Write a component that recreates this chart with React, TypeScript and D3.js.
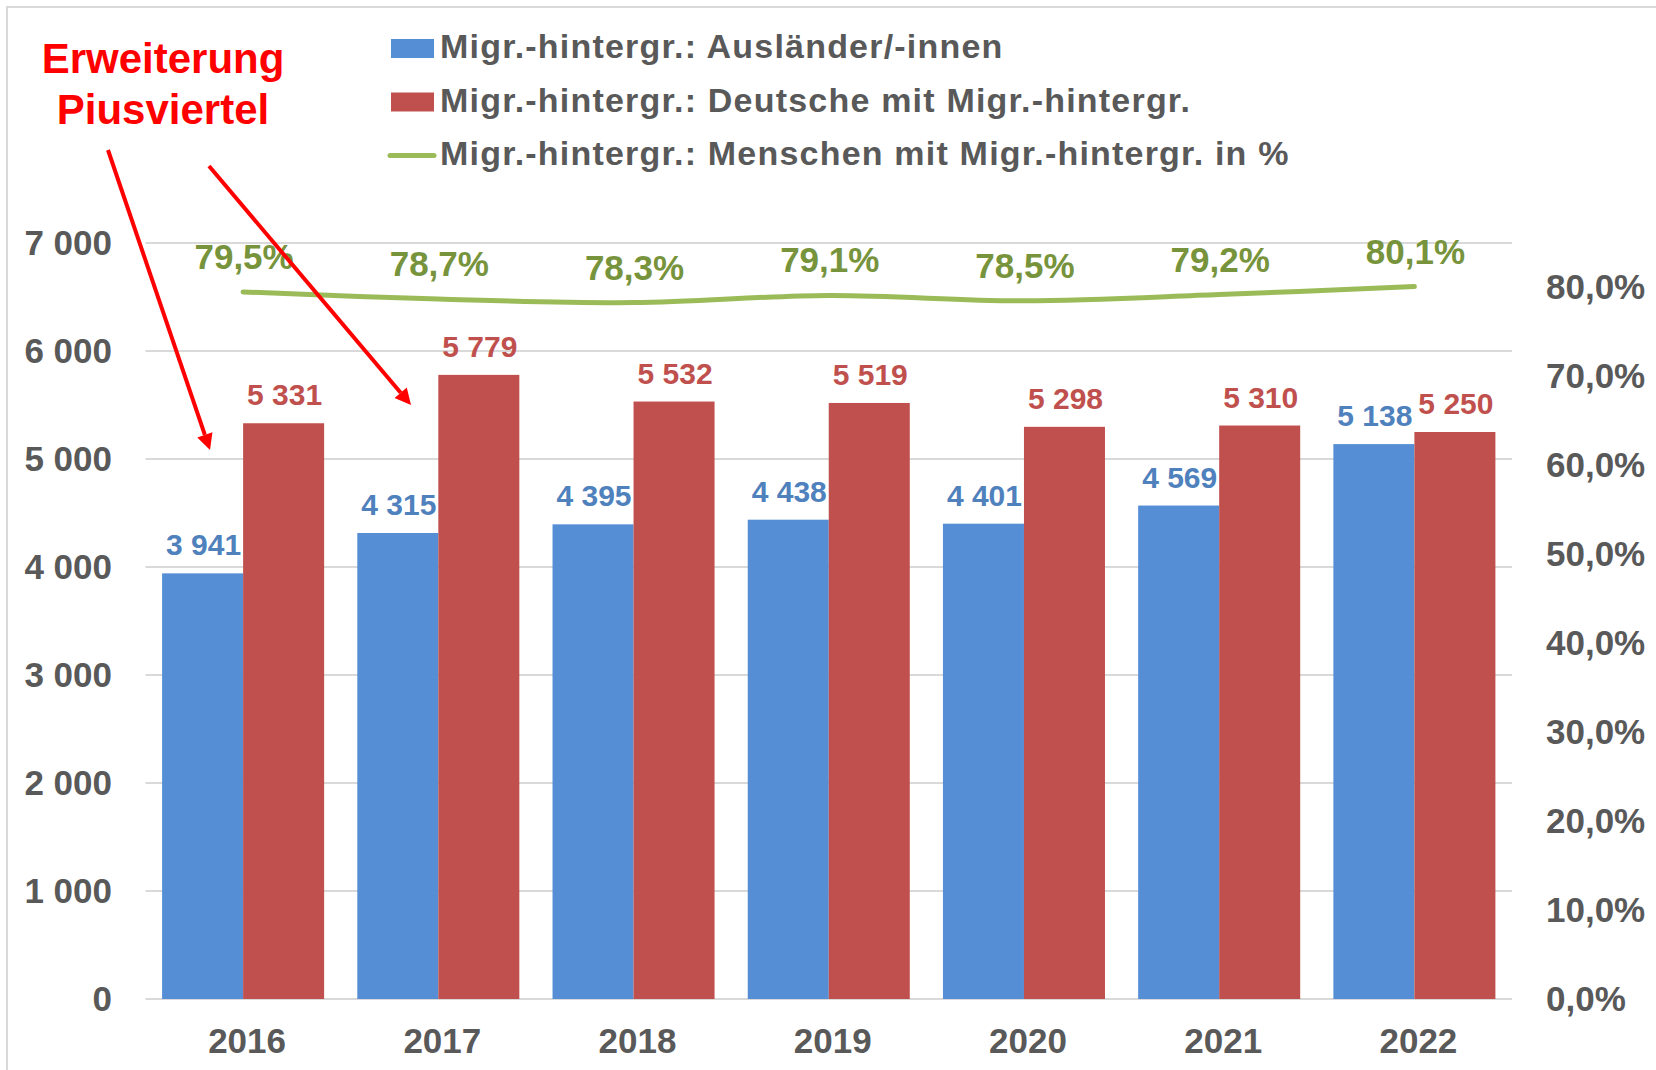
import * as d3 from "d3";

// Jahre und Werte
const years = ["2016", "2017", "2018", "2019", "2020", "2021", "2022"];
const auslaender = [3941, 4315, 4395, 4438, 4401, 4569, 5138];
const deutscheMigr = [5331, 5779, 5532, 5519, 5298, 5310, 5250];
const anteilProzent = [79.5, 78.7, 78.3, 79.1, 78.5, 79.2, 80.1];

const leftTicks = [0, 1000, 2000, 3000, 4000, 5000, 6000, 7000];
const rightTicks = [0, 0.1, 0.2, 0.3, 0.4, 0.5, 0.6, 0.7, 0.8];

const legendLabels = [
  "Migr.-hintergr.: Ausländer/-innen",
  "Migr.-hintergr.: Deutsche mit Migr.-hintergr.",
  "Migr.-hintergr.: Menschen mit Migr.-hintergr. in %",
];
const annotationLines = ["Erweiterung", "Piusviertel"];

const W = 1656;
const H = 1070;
const PLOT = { left: 145.5, right: 1512, top: 243, bottom: 999 };

const BLUE = "#558ED5";
const BLUE_TXT = "#4F81BD";
const RED = "#C0504D";
const GREEN = "#9BBB59";
const GREEN_TXT = "#77933C";
const GRAY = "#595959";
const GRID = "#D9D9D9";
const FONT = "'Liberation Sans', Arial, sans-serif";

const de = d3.formatLocale({
  decimal: ",",
  thousands: " ",
  grouping: [3],
  currency: ["", " €"],
});
const fmtNum = de.format(",d");
const fmtPct = de.format(".1%");

export default function App() {
  const x = d3
    .scaleBand<string>()
    .domain(years)
    .range([PLOT.left, PLOT.right])
    .paddingInner(0.17)
    .paddingOuter(0.085);
  const xSub = d3
    .scaleBand<string>()
    .domain(["a", "d"])
    .range([0, x.bandwidth()]);
  const yLeft = d3.scaleLinear().domain([0, 7000]).range([PLOT.bottom, PLOT.top]);
  const yRight = d3.scaleLinear().domain([0, 0.85]).range([PLOT.bottom, PLOT.top]);

  const cx = (y: string) => (x(y) ?? 0) + x.bandwidth() / 2;

  const linePts: [number, number][] = years.map((yr, i) => [
    cx(yr),
    yRight(anteilProzent[i] / 100),
  ]);
  const lineGen = d3.line().curve(d3.curveCatmullRom.alpha(0.5));

  const bars = [
    { key: "a", values: auslaender, fill: BLUE, txt: BLUE_TXT },
    { key: "d", values: deutscheMigr, fill: RED, txt: RED },
  ];

  // Pfeile von der Anmerkung zu 2016/2017
  const arrows = [
    { from: [108, 150], to: [210, 450] },
    { from: [209, 166], to: [411, 405] },
  ];

  return (
    <svg
      width={W}
      height={H}
      viewBox={`0 0 ${W} ${H}`}
      style={{ position: "absolute", left: 0, top: 0, background: "#fff" }}
      fontFamily={FONT}
      fontWeight="bold"
    >
      <rect x={7} y={7} width={W} height={H} fill="#fff" stroke={GRID} strokeWidth={2} />

      {/* Gitterlinien */}
      {leftTicks.map((t) => (
        <line
          key={t}
          x1={PLOT.left}
          x2={PLOT.right}
          y1={yLeft(t)}
          y2={yLeft(t)}
          stroke={GRID}
          strokeWidth={2}
        />
      ))}

      {/* Balken */}
      {bars.map((s) =>
        years.map((yr, i) => {
          const bx = (x(yr) ?? 0) + (xSub(s.key) ?? 0);
          const by = yLeft(s.values[i]);
          return (
            <rect
              key={s.key + yr}
              x={bx}
              y={by}
              width={xSub.bandwidth()}
              height={PLOT.bottom - by}
              fill={s.fill}
            />
          );
        })
      )}

      {/* Balkenbeschriftungen */}
      {bars.map((s) =>
        years.map((yr, i) => {
          const bx = (x(yr) ?? 0) + (xSub(s.key) ?? 0) + xSub.bandwidth() / 2;
          return (
            <text
              key={"l" + s.key + yr}
              x={bx + 1}
              y={yLeft(s.values[i]) - 18}
              textAnchor="middle"
              fontSize={30}
              fill={s.txt}
            >
              {fmtNum(s.values[i])}
            </text>
          );
        })
      )}

      {/* Linie */}
      <path
        d={lineGen(linePts) || ""}
        fill="none"
        stroke={GREEN}
        strokeWidth={5}
        strokeLinecap="round"
        strokeLinejoin="round"
      />
      {years.map((yr, i) => (
        <text
          key={"p" + yr}
          x={cx(yr) + 1}
          y={linePts[i][1] - 23}
          textAnchor="middle"
          fontSize={35}
          fill={GREEN_TXT}
        >
          {fmtPct(anteilProzent[i] / 100)}
        </text>
      ))}

      {/* linke Achse */}
      {leftTicks.map((t) => (
        <text
          key={"yl" + t}
          x={112}
          y={yLeft(t) + 12}
          textAnchor="end"
          fontSize={35}
          fill={GRAY}
        >
          {fmtNum(t)}
        </text>
      ))}

      {/* rechte Achse */}
      {rightTicks.map((t) => (
        <text
          key={"yr" + t}
          x={1546}
          y={yRight(t) + 12}
          textAnchor="start"
          fontSize={35}
          fill={GRAY}
        >
          {fmtPct(t)}
        </text>
      ))}

      {/* x-Achse */}
      {years.map((yr) => (
        <text
          key={"x" + yr}
          x={cx(yr) + 4}
          y={1053}
          textAnchor="middle"
          fontSize={35}
          fill={GRAY}
        >
          {yr}
        </text>
      ))}

      {/* Legende */}
      {legendLabels.map((lab, i) => {
        const cy = 48.5 + i * 53.5;
        return (
          <g key={lab}>
            {i < 2 ? (
              <rect x={391} y={cy - 9.5} width={43} height={19} fill={i === 0 ? BLUE : RED} />
            ) : (
              <line
                x1={390}
                x2={434}
                y1={cy}
                y2={cy}
                stroke={GREEN}
                strokeWidth={5}
                strokeLinecap="round"
              />
            )}
            <text
              x={440}
              y={cy + 9.5}
              fontSize={34}
              fill={GRAY}
              style={{ letterSpacing: "1.2px" }}
            >
              {lab}
            </text>
          </g>
        );
      })}

      {/* Anmerkung */}
      {annotationLines.map((t, i) => (
        <text
          key={t}
          x={163}
          y={73 + i * 51}
          textAnchor="middle"
          fontSize={42}
          fill="#FF0000"
        >
          {t}
        </text>
      ))}
      {arrows.map((a, i) => {
        const [x1, y1] = a.from;
        const [x2, y2] = a.to;
        const ang = Math.atan2(y2 - y1, x2 - x1);
        const len = 16;
        const half = 8;
        const bxp = x2 - len * Math.cos(ang);
        const byp = y2 - len * Math.sin(ang);
        const px = -Math.sin(ang) * half;
        const py = Math.cos(ang) * half;
        return (
          <g key={"arr" + i}>
            <line x1={x1} y1={y1} x2={bxp} y2={byp} stroke="#FF0000" strokeWidth={4} />
            <path
              d={`M${x2},${y2}L${bxp + px},${byp + py}L${bxp - px},${byp - py}Z`}
              fill="#FF0000"
            />
          </g>
        );
      })}
    </svg>
  );
}
